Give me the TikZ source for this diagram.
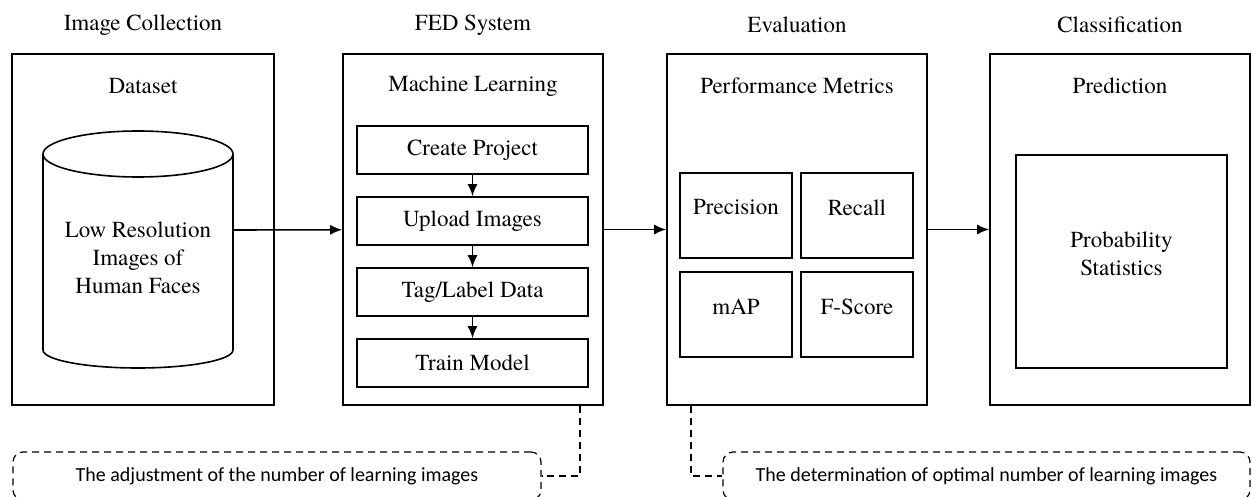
\documentclass[tikz,border=0pt]{standalone}
\usepackage{fontspec}
\setmainfont{texgyretermes}[Extension=.otf, UprightFont=*-regular, BoldFont=*-bold, ItalicFont=*-italic, BoldItalicFont=*-bolditalic]
\newfontfamily\notefont{Carlito}
\usetikzlibrary{arrows.meta,positioning}

\tikzset{
  stage/.style={draw, minimum width=130pt, minimum height=175.5pt, inner sep=0pt},
  stepbox/.style={draw, minimum width=115.5pt, minimum height=24pt, inner sep=0pt},
  metric/.style={draw, minimum width=56pt, minimum height=42.5pt, inner sep=0pt},
  note/.style={draw, line width=0.6pt, dash pattern=on 3.5pt off 2.5pt, rounded corners=5pt,
    minimum height=24pt, inner sep=0pt, font=\notefont\fontsize{10pt}{12pt}\selectfont},
  link/.style={line width=0.6pt, dash pattern=on 3.5pt off 2.5pt},
}

\begin{document}
\begin{tikzpicture}[x=0.5pt,y=-0.5pt,>={Latex[length=6pt,width=5pt]},line width=0.8pt,
    node distance=35.5pt,font=\fontsize{11.5pt}{14pt}\selectfont]
            \useasboundingbox (0,0) rectangle (1252,497);
            \clip (0,0) rectangle (1252,497);

            % the four stages
            \node[stage, minimum width=131pt] (coll) at (143,229.5) {};
            \node[stage] (fed)  at (473,229.5)  {};
            \node[stage] (eval) at (797,229.5)  {};
            \node[stage] (cls)  at (1120,229.5) {};

            \node (collh) at ([yshift=14pt]coll.north) {Image Collection};
            \node (fedh)  at ([yshift=14pt]fed.north)  {FED System};
            \node (evalh) at ([yshift=14pt]eval.north) {Evaluation};
            \node (clsh)  at ([yshift=14pt]cls.north)  {Classification};

            \node (colli) at ([yshift=-16.5pt]coll.north) {Dataset};
            \node (fedi)  at ([yshift=-16.5pt]fed.north)  {Machine Learning};
            \node (evali) at ([yshift=-16.5pt]eval.north) {Performance Metrics};
            \node (clsi)  at ([yshift=-16.5pt]cls.north)  {Prediction};

            % dataset cylinder
            \draw (43,154) -- (43,350) arc[start angle=180, end angle=0, x radius=95, y radius=18] -- (233,154);
            \draw (138,154) ellipse [x radius=95, y radius=23];
            \coordinate (cylr) at (233,230);
            \node[align=center] (faces) at (138,258) {Low Resolution\\Images of\\Human Faces};

            % machine learning steps
            \node[stepbox] (create) at (472.5,150) {Create Project};
            \node[stepbox] (upload) [below of=create] {Upload Images};
            \node[stepbox] (tag)    [below of=upload] {Tag/Label Data};
            \node[stepbox] (train)  [below of=tag]    {Train Model};

            % metrics
            \node[metric] (prec) at (736,215.5) {};
            \node[metric] (rec)  at (857,215.5) {};
            \node[metric] (map)  at (736,314.5) {};
            \node[metric] (fsc)  at (857,314.5) {};
            \node (precl) at ([yshift=4pt]prec) {Precision};
            \node (recl)  at ([yshift=4pt]rec)  {Recall};
            \node (mapl)  at ([yshift=4pt]map)  {mAP};
            \node (fscl)  at ([yshift=4pt]fsc)  {F-Score};

            % prediction
            \node[draw, minimum width=105.5pt, minimum height=106.5pt, inner sep=0pt] (prob) at (1121.5,261.5) {};
            \node[align=center] (probl) at ([yshift=4pt]prob) {Probability\\Statistics};

            \path[->]
                (cylr) edge (fed)
                (fed) edge (eval)
                (eval) edge (cls)
                (create) edge (upload)
                (upload) edge (tag)
                (tag) edge (train);

            % feedback notes
            \node[note, minimum width=264pt] (adj) at (277,476) {The adjustment of the number of learning images};
            \node[note, minimum width=263.5pt] (det) at (986.5,476) {The determination of optimal number of learning images};
            \draw[link] ([xshift=53.5pt]fed.south) |- (adj.east);
            \draw[link] ([xshift=-53pt]eval.south) |- (det.west);
        \end{tikzpicture}
\end{document}
